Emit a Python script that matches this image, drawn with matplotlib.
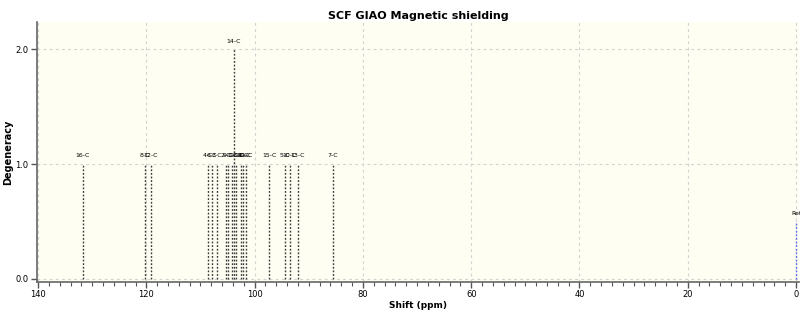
import matplotlib
matplotlib.use("Agg")
import matplotlib.pyplot as plt
from matplotlib.ticker import MultipleLocator

# Peak data (shift in ppm, degeneracy, label)
shifts = [131.7, 120.3, 119.2, 108.7, 107.9, 107.0, 105.3, 105.0, 104.1, 103.8,
          103.4, 102.5, 102.1, 101.6, 97.3, 94.4, 93.5, 92.0, 85.6]
degeneracy = [1, 1, 1, 1, 1, 1, 1, 1, 1, 2, 1, 1, 1, 1, 1, 1, 1, 1, 1]
labels = ["16-C", "8-C", "12-C", "4-C", "6-C", "3-C", "2-C", "9-C", "1-C", "14-C",
          "18-C", "19-C", "20-C", "11-C", "15-C", "5-C", "10-C", "13-C", "7-C"]
ref_shift = [0.0]
ref_height = [0.5]
ref_label = ["Ref"]

x_ticks = [140, 120, 100, 80, 60, 40, 20, 0]
y_ticks = [0.0, 1.0, 2.0]

fig = plt.figure(figsize=(8.0, 3.13), dpi=100)
ax = fig.add_axes([37/800, 1-282/313, (799-37)/800, (282-22)/313])
ax.set_facecolor("#fefef2")

ax.set_xlim(140.2, -0.55)
ax.set_ylim(-0.03, 2.24)

for s, d, lab in zip(shifts, degeneracy, labels):
    ax.vlines(s, 0, d, colors="#3a3a3a", linestyles=(0, (1.3, 1.3)), linewidth=1.0, zorder=3)
    ax.text(s, d + 0.05, lab, fontsize=4.5, ha="center", va="bottom", color="black", zorder=4)

for s, h, lab in zip(ref_shift, ref_height, ref_label):
    ax.vlines(s, 0, h, colors="#5a6cf0", linestyles=(0, (1.3, 1.3)), linewidth=1.0, zorder=3)
    ax.text(s, h + 0.05, lab, fontsize=4.5, ha="center", va="bottom", color="black",
            zorder=4, clip_on=False)

ax.set_xticks(x_ticks)
ax.set_xticklabels([str(t) for t in x_ticks], fontsize=6)
ax.set_yticks(y_ticks)
ax.set_yticklabels(["%.1f" % t for t in y_ticks], fontsize=6)
ax.xaxis.set_minor_locator(MultipleLocator(2))
ax.tick_params(axis="both", colors="#555555", labelcolor="black", length=4, width=1, pad=2)
ax.tick_params(axis="x", which="minor", length=3, width=0.8, colors="#555555")

ax.grid(True, which="major", color="#d2d2d2", linestyle=(0, (2.5, 3)), linewidth=0.8)
ax.set_axisbelow(True)

for side in ["top", "right"]:
    ax.spines[side].set_visible(False)
for side in ["left", "bottom"]:
    ax.spines[side].set_color("#666666")
    ax.spines[side].set_linewidth(1.2)

ax.set_ylabel("Degeneracy", fontsize=7, fontweight="bold", labelpad=2)
fig.text(418/800, 1-305/313, "Shift (ppm)", fontsize=6.5, fontweight="bold",
         ha="center", va="center")
fig.text(418/800, 1-16/313, "SCF GIAO Magnetic shielding", fontsize=8, fontweight="bold",
         ha="center", va="center")

fig.savefig("out.png", dpi=100)
